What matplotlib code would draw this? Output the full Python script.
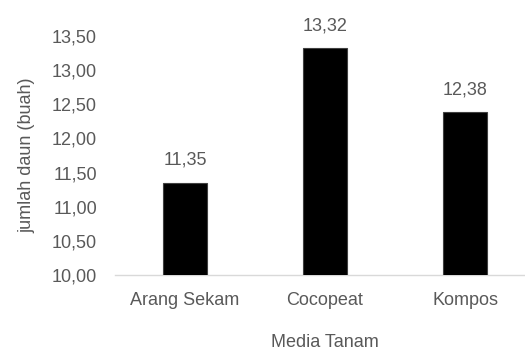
import matplotlib
matplotlib.use("Agg")
import matplotlib.pyplot as plt
from matplotlib import font_manager

names = {f.name for f in font_manager.fontManager.ttflist}
fam = "Liberation Sans Narrow" if "Liberation Sans Narrow" in names else "Liberation Sans"
plt.rcParams['font.family'] = [fam, 'DejaVu Sans']

categories = ["Arang Sekam", "Cocopeat", "Kompos"]
values = [11.35, 13.32, 12.38]
yticks = [10.0, 10.5, 11.0, 11.5, 12.0, 12.5, 13.0, 13.5]

txt = "#595959"
fs = 13
fig = plt.figure(figsize=(5.25, 3.5), dpi=100)
ax = fig.add_axes([115/525, 1-275/350, 420/525, (275-36)/350])
x = range(len(categories))
ax.bar(x, values, width=0.32, bottom=0, color="black", edgecolor="#404040", linewidth=0.8, zorder=3)
for xi, v in zip(x, values):
    ax.annotate(f"{v:.2f}".replace(".", ","), (xi, v), xytext=(0, 10), textcoords="offset points",
                ha="center", va="bottom", fontsize=fs, color=txt)
ax.set_ylim(10, 13.5)
ax.set_xlim(-0.5, 2.5)
ax.set_yticks(yticks)
ax.set_yticklabels([f"{t:.2f}".replace(".", ",") for t in yticks], fontsize=fs, color=txt)
ax.set_xticks(list(x))
ax.set_xticklabels(categories, fontsize=fs, color=txt)
ax.tick_params(axis='y', length=0, pad=13)
ax.tick_params(axis='x', length=0, pad=12)
for s in ["top", "right", "left"]:
    ax.spines[s].set_visible(False)
ax.spines["bottom"].set_color("#d9d9d9")
ax.spines["bottom"].set_linewidth(1.0)
ax.set_ylabel("jumlah daun (buah)", fontsize=fs, color=txt, labelpad=12)
ax.set_xlabel("Media Tanam", fontsize=fs, color=txt, labelpad=18)
fig.savefig("out.png", dpi=100)
